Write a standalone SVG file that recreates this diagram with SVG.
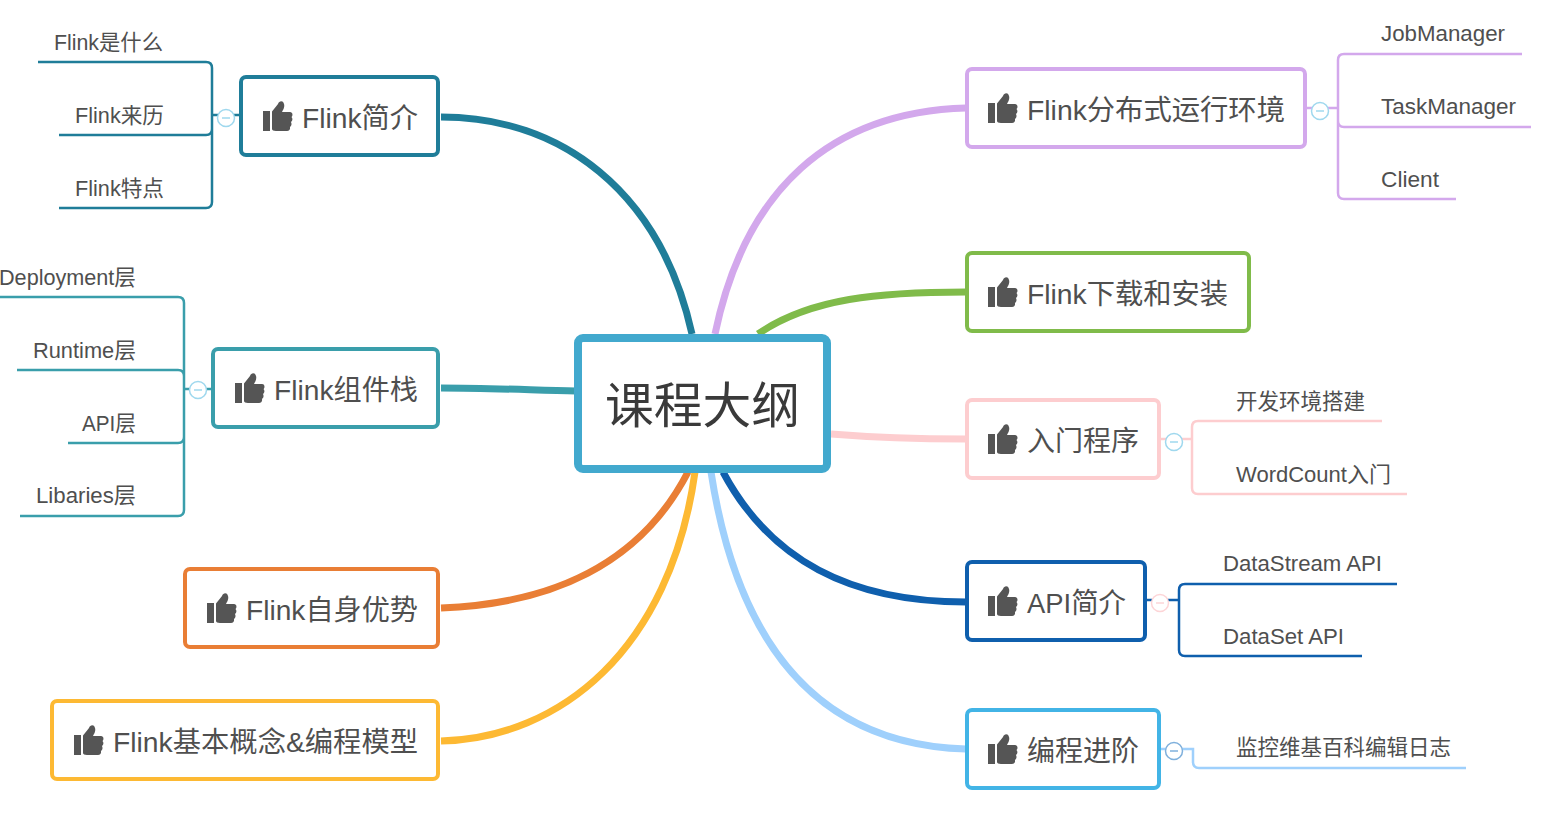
<svg xmlns="http://www.w3.org/2000/svg" xmlns:xlink="http://www.w3.org/1999/xlink" width="1554" height="822" viewBox="0 0 1554 822">
<style>
text{font-family:"Liberation Sans","Noto Sans CJK SC",sans-serif;fill:#4f4f4f}
.t{font-size:28px}
.c{font-size:21.500px}
.r{font-size:49px;fill:#3a3a3a}
.n{fill:#fff;stroke-width:4}
.m{fill:none;stroke-width:7;stroke-linecap:butt}
.b{fill:none;stroke-width:2.500;stroke-linecap:butt}
.k{fill:#fff;stroke:#9fd8ee;stroke-width:1.500}
.d{fill:none;stroke:#9fd8ee;stroke-width:1.500}
</style>
<defs>
<g id="thumb"><path fill="#555" d="M0 10h7v20H0zM9 10.500L15 3C16 0 20 -1 21 3C22 6 20 9 19 11H27C30 11 30 15 28.500 16C30 17.500 29.500 20 28 21C29 23 28.500 25 27 26C27.500 28.500 26 30 24 30H13C10.500 30 9 29 9 28z"/></g>
</defs>
<rect width="1554" height="822" fill="#fff"/>
<g id="connectors">
<path class="m" stroke="#1f7d99" d="M441 117C560 117 660 190 692 334"/>
<path class="m" stroke="#3a9eab" d="M441 388C490 388 530 390 576 391"/>
<path class="m" stroke="#e97e35" d="M441 608C550 604 640 565 688 472"/>
<path class="m" stroke="#fdb933" d="M441 741C560 738 670 650 695 472"/>
<path class="m" stroke="#d3a8ec" d="M966 108C830 112 745 190 715 334"/>
<path class="m" stroke="#80bb4a" d="M966 292C880 292 810 298 758 334"/>
<path class="m" stroke="#fdcdcf" d="M966 439C920 439 880 438 831 434"/>
<path class="m" stroke="#0f5fad" d="M966 602C850 602 770 560 723 472"/>
<path class="m" stroke="#9fd0fc" d="M966 749C830 745 740 660 711 472"/>
<path class="b" stroke="#1f7d99" d="M38 62H206Q212 62 212 68V202Q212 208 206 208H59M59 135H206Q212 135 212 129M212 115H240"/>
<path class="b" stroke="#3a9eab" d="M0 297H178Q184 297 184 303V510Q184 516 178 516H20M17 370H178Q184 370 184 376V437Q184 443 178 443H68M184 389H212"/>
<path class="b" stroke="#d3a8ec" d="M1522 54H1344Q1338 54 1338 60V193Q1338 199 1344 199H1456M1531 127H1344Q1338 127 1338 121M1306 108H1338"/>
<path class="b" stroke="#fdcdcf" d="M1382 421H1198Q1192 421 1192 427V488Q1192 494 1198 494H1407M1160 439H1192"/>
<path class="b" stroke="#0f5fad" d="M1397 584H1185Q1179 584 1179 590V650Q1179 656 1185 656H1362M1147 600H1179"/>
<path class="b" stroke="#9fd0fc" d="M1466 768H1199Q1193 768 1193 762V749H1161"/>
</g>
<g id="root"><rect x="578" y="338" width="249" height="131" rx="5" fill="#fff" stroke="#42a9ce" stroke-width="8"/><text class="r" x="605" y="423" textLength="195" lengthAdjust="spacingAndGlyphs">课程大纲</text></g>
<g id="n1"><rect class="n" x="241" y="77" width="197" height="78" rx="5" stroke="#1f7d99"/><use xlink:href="#thumb" x="263" y="101"/><text class="t" x="302" y="128" textLength="116" lengthAdjust="spacingAndGlyphs">Flink简介</text></g>
<g id="n2"><rect class="n" x="213" y="349" width="225" height="78" rx="5" stroke="#3a9eab"/><use xlink:href="#thumb" x="235" y="373"/><text class="t" x="274" y="400" textLength="144" lengthAdjust="spacingAndGlyphs">Flink组件栈</text></g>
<g id="n3"><rect class="n" x="185" y="569" width="253" height="78" rx="5" stroke="#e97e35"/><use xlink:href="#thumb" x="207" y="593"/><text class="t" x="246" y="620" textLength="172" lengthAdjust="spacingAndGlyphs">Flink自身优势</text></g>
<g id="n4"><rect class="n" x="52" y="701" width="386" height="78" rx="5" stroke="#fdb933"/><use xlink:href="#thumb" x="74" y="725"/><text class="t" x="113" y="752" textLength="305" lengthAdjust="spacingAndGlyphs">Flink基本概念&amp;编程模型</text></g>
<g id="n5"><rect class="n" x="967" y="69" width="338" height="78" rx="5" stroke="#d3a8ec"/><use xlink:href="#thumb" x="988" y="93"/><text class="t" x="1027" y="120" textLength="258" lengthAdjust="spacingAndGlyphs">Flink分布式运行环境</text></g>
<g id="n6"><rect class="n" x="967" y="253" width="282" height="78" rx="5" stroke="#80bb4a"/><use xlink:href="#thumb" x="988" y="277"/><text class="t" x="1027" y="304" textLength="201" lengthAdjust="spacingAndGlyphs">Flink下载和安装</text></g>
<g id="n7"><rect class="n" x="967" y="400" width="192" height="78" rx="5" stroke="#fdcdcf"/><use xlink:href="#thumb" x="988" y="424"/><text class="t" x="1027" y="451" textLength="112" lengthAdjust="spacingAndGlyphs">入门程序</text></g>
<g id="n8"><rect class="n" x="967" y="562" width="178" height="78" rx="5" stroke="#0f5fad"/><use xlink:href="#thumb" x="988" y="586"/><text class="t" x="1027" y="613" textLength="99" lengthAdjust="spacingAndGlyphs">API简介</text></g>
<g id="n9"><rect class="n" x="967" y="710" width="192" height="78" rx="5" stroke="#42b4e6"/><use xlink:href="#thumb" x="988" y="734"/><text class="t" x="1027" y="761" textLength="112" lengthAdjust="spacingAndGlyphs">编程进阶</text></g>
<g id="collapse">
<circle class="k" cx="226" cy="118" r="8.500"/><path class="d" d="M222 118h8"/>
<circle class="k" cx="198" cy="390" r="8.500"/><path class="d" d="M194 390h8"/>
<circle class="k" cx="1320" cy="111" r="8.500"/><path class="d" d="M1316 111h8"/>
<circle class="k" cx="1174" cy="442" r="8.500"/><path class="d" d="M1170 442h8"/>
<circle class="k" cx="1160" cy="603" r="8.500" style="stroke:#fdd5d7"/><path class="d" style="stroke:#fdd5d7" d="M1156 603h8"/>
<circle class="k" cx="1174" cy="751" r="8.500" style="stroke:#7fb0dc"/><path class="d" style="stroke:#7fb0dc" d="M1170 751h8"/>
</g>
<g id="l1"><text class="c" x="54" y="50" textLength="109" lengthAdjust="spacingAndGlyphs">Flink是什么</text></g>
<g id="l2"><text class="c" x="75" y="123" textLength="89" lengthAdjust="spacingAndGlyphs">Flink来历</text></g>
<g id="l3"><text class="c" x="75" y="196" textLength="89" lengthAdjust="spacingAndGlyphs">Flink特点</text></g>
<g id="l4"><text class="c" x="-1" y="285" textLength="137" lengthAdjust="spacingAndGlyphs">Deployment层</text></g>
<g id="l5"><text class="c" x="33" y="358" textLength="103" lengthAdjust="spacingAndGlyphs">Runtime层</text></g>
<g id="l6"><text class="c" x="82" y="431" textLength="54" lengthAdjust="spacingAndGlyphs">API层</text></g>
<g id="l7"><text class="c" x="36" y="503" textLength="100" lengthAdjust="spacingAndGlyphs">Libaries层</text></g>
<g id="l8"><text class="c" x="1381" y="41" textLength="124" lengthAdjust="spacingAndGlyphs">JobManager</text></g>
<g id="l9"><text class="c" x="1381" y="114" textLength="135" lengthAdjust="spacingAndGlyphs">TaskManager</text></g>
<g id="l10"><text class="c" x="1381" y="187" textLength="58" lengthAdjust="spacingAndGlyphs">Client</text></g>
<g id="l11"><text class="c" x="1236" y="409" textLength="129" lengthAdjust="spacingAndGlyphs">开发环境搭建</text></g>
<g id="l12"><text class="c" x="1236" y="482" textLength="155" lengthAdjust="spacingAndGlyphs">WordCount入门</text></g>
<g id="l13"><text class="c" x="1223" y="571" textLength="159" lengthAdjust="spacingAndGlyphs">DataStream API</text></g>
<g id="l14"><text class="c" x="1223" y="644" textLength="121" lengthAdjust="spacingAndGlyphs">DataSet API</text></g>
<g id="l15"><text class="c" x="1236" y="755" textLength="215" lengthAdjust="spacingAndGlyphs">监控维基百科编辑日志</text></g>
</svg>
